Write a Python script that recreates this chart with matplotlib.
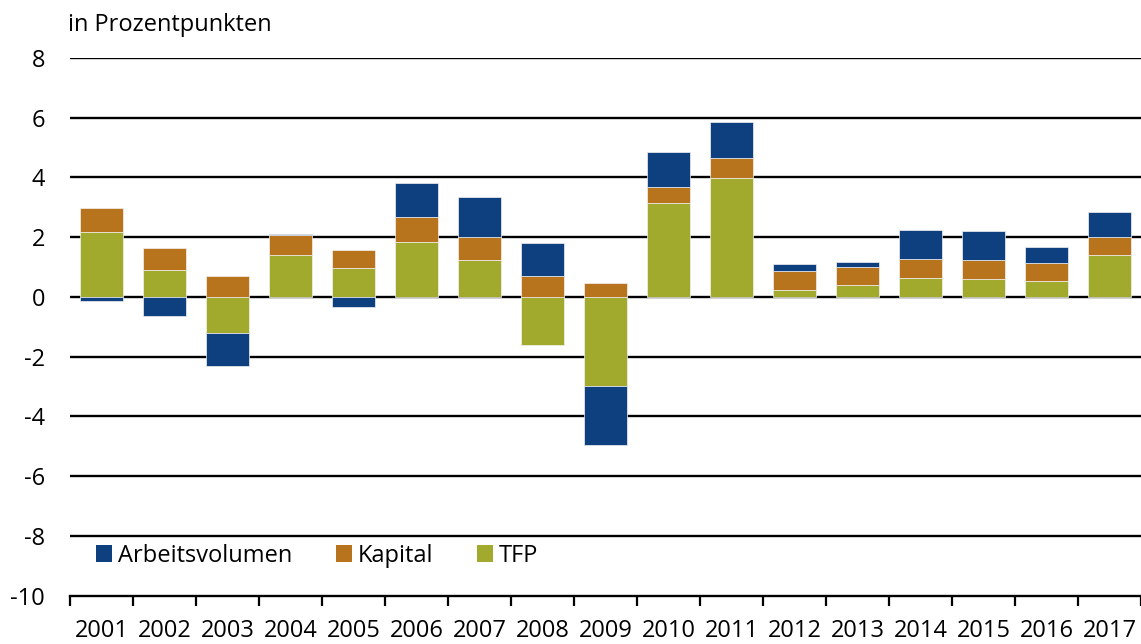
import matplotlib
matplotlib.use("Agg")
import matplotlib.pyplot as plt
from matplotlib.patches import Patch
import numpy as np

plt.rcParams['font.family'] = ['Open Sans', 'DejaVu Sans']

years = ["2001", "2002", "2003", "2004", "2005", "2006", "2007", "2008", "2009",
         "2010", "2011", "2012", "2013", "2014", "2015", "2016", "2017"]
tfp = [2.17, 0.90, -1.21, 1.40, 0.97, 1.83, 1.23, -1.61, -2.99,
       3.14, 3.98, 0.22, 0.39, 0.64, 0.60, 0.53, 1.40]
kapital = [0.81, 0.73, 0.69, 0.67, 0.60, 0.84, 0.78, 0.69, 0.47,
           0.54, 0.68, 0.64, 0.60, 0.62, 0.65, 0.62, 0.62]
arbeit = [-0.13, -0.64, -1.11, 0.03, -0.34, 1.13, 1.32, 1.13, -1.96,
          1.17, 1.21, 0.24, 0.17, 0.98, 0.96, 0.52, 0.82]
yticks = [8, 6, 4, 2, 0, -2, -4, -6, -8, -10]

series = [("TFP", tfp, "#A1AA2D"), ("Kapital", kapital, "#B8741D"),
          ("Arbeitsvolumen", arbeit, "#0E3F7F")]

FS = 17

fig = plt.figure(figsize=(11.41, 6.44), dpi=100)
ax = fig.add_axes([70 / 1141, 1 - 595.6 / 644, 1071 / 1141, (595.6 - 58) / 644])

x = np.arange(len(years))
pos_bottom = np.zeros(len(years))
neg_bottom = np.zeros(len(years))
for name, vals, col in series:
    v = np.array(vals)
    bottom = np.where(v >= 0, pos_bottom, neg_bottom)
    ax.bar(x, v, width=0.667, bottom=bottom, color=col, edgecolor="#f2f2f2",
           linewidth=0.5, zorder=2)
    pos_bottom += np.where(v >= 0, v, 0)
    neg_bottom += np.where(v < 0, v, 0)

for t in yticks:
    if t != -10:
        ax.axhline(t, color="black", lw=1.7, zorder=1)

ax.set_xlim(-0.5, len(years) - 0.5)
ax.set_ylim(-10, 8)
ax.set_yticks(yticks)
ax.set_yticklabels([str(t) for t in yticks])
ax.set_xticks(x)
ax.set_xticklabels(years)
ax.set_xticks(np.arange(-0.5, len(years)), minor=True)

for s in ["top", "right", "left"]:
    ax.spines[s].set_visible(False)
ax.spines["bottom"].set_linewidth(1.7)
ax.spines["bottom"].set_color("black")

ax.tick_params(axis="y", length=0, pad=18, labelsize=FS)
ax.tick_params(axis="x", which="major", length=0, pad=16.5, labelsize=FS)
ax.tick_params(axis="x", which="minor", length=7, width=1.6, direction="out")

fig.text(68 / 1141, 1 - 25 / 644, "in Prozentpunkten", fontsize=FS,
         ha="left", va="center")

handles = [Patch(facecolor=c, edgecolor="none", label=n) for n, _, c in
           [series[2], series[1], series[0]]]
ax.legend(handles=handles, loc="center left", bbox_to_anchor=(0.024, 0.074),
          ncol=3, frameon=False, fontsize=FS, handlelength=0.68,
          handleheight=0.68, handletextpad=0.25, columnspacing=1.86,
          borderpad=0, borderaxespad=0)

fig.savefig("out.png", dpi=100)
